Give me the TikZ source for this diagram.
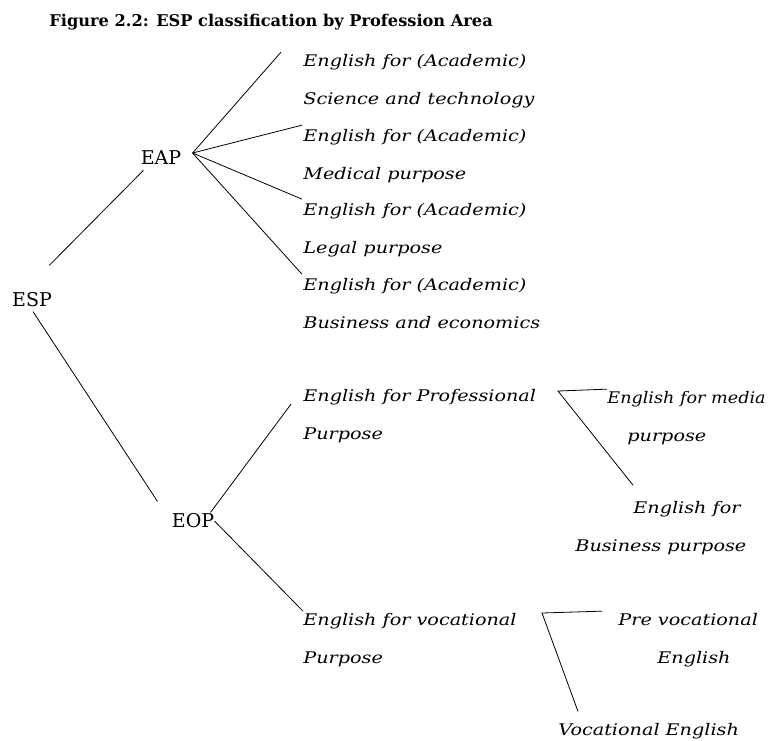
\documentclass[tikz,border=0pt]{standalone}
\usepackage{fontspec}
\setmainfont{DejaVu Serif}
\newfontfamily\areafont[FakeStretch=1.2]{DejaVu Serif}
\newfontfamily\mediafont[FakeStretch=1.1]{DejaVu Serif}
\usetikzlibrary{calc}

\begin{document}
\begin{tikzpicture}[x=1pt,y=-1pt,line width=0.8pt,
    abbr/.style={inner sep=0pt,font=\fontsize{19pt}{22pt}\selectfont},
    area/.style={inner sep=0pt,anchor=base west,align=left,
      font=\areafont\itshape\fontsize{16pt}{37.3pt}\selectfont}]
  \useasboundingbox (0,0) rectangle (774,740);
  \node[anchor=base west,inner sep=0pt,font=\bfseries\fontsize{16.2pt}{18pt}\selectfont]
    (title) at (49,26) {Figure 2.2: ESP classification by Profession Area};
  % the three abbreviations
  \node[abbr] (esp) at (32,300) {ESP};
  \node[abbr] (eap) at (161,158) {EAP};
  \node[abbr] (eop) at (193,521) {EOP};
  % academic purposes (base = last line)
  \foreach \y/\nm/\lab in {104/sci/Science and technology, 179/med/Medical purpose,
      253/leg/Legal purpose, 328/bus/Business and economics}
    {\node[area] (\nm) at (303,\y) {English for (Academic)\\\lab};}
  % occupational purposes
  \node[area] (epp) at (303,439) {English for Professional\\Purpose};
  \node[area] (evp) at (303,663) {English for vocational\\Purpose};
  \node[area] (media) at (607,441) {\mediafont English for media\\\hspace*{20pt}purpose};
  \node[area] (bpp) at (575,551) {\hspace*{58pt}English for\\Business purpose};
  \node[area] (pve) at (618,663) {Pre vocational\\\hspace*{39pt}English};
  \node[area] (voc) at (558,735) {Vocational English};
  \coordinate (pfork) at (558,391);
  \coordinate (vfork) at (542,613);
  % connectors
  \draw ([shift={(-3,-27)}]esp.north east) -- ([shift={(3,5)}]eap.south west);
  \draw ([shift={(1,4)}]esp.south) -- ([shift={(-14,-12)}]eop.north west);
  \draw ([shift={(11,-5)}]eap.east) -- ([shift={(-22,-2)}]sci.north west);
  \foreach \nm in {med,leg,bus}
    \draw ([shift={(11,-5)}]eap.east) -- ([shift={(-1,-4)}]\nm.north west);
  \draw ([shift={(-4,-1)}]eop.north east) -- ([shift={(-12,15)}]epp.north west);
  \draw (eop.east) -- ([shift={(0,-2)}]evp.north west);
  \draw ([shift={(0,-2)}]media.north west) -- (pfork) -- ([shift={(58,-16)}]bpp.north west);
  \draw ([shift={(-16,-2)}]pve.north west) -- (vfork) -- ([shift={(20,-11)}]voc.north west);
\end{tikzpicture}
\end{document}
